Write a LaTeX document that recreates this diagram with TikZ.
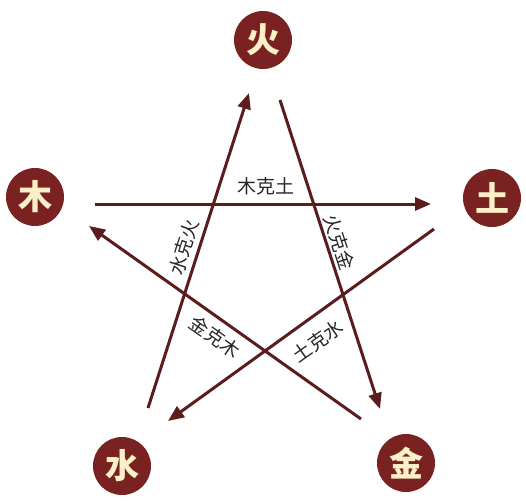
\documentclass[tikz,border=0pt]{standalone}
\usepackage{fontspec}
\usepackage{xcolor}
\usepackage{tikz}
\usetikzlibrary{arrows.meta}
\newfontfamily\cjk{Noto Sans CJK SC}
\definecolor{zaohong}{HTML}{7A2222}
\definecolor{kexian}{HTML}{5A1C1C}
\definecolor{mihuang}{HTML}{FBF0C8}
\tikzset{
	xing/.style={circle,fill=zaohong,minimum size=58pt,inner sep=0pt,
		text=mihuang,font=\cjk\bfseries\fontsize{34}{34}\selectfont},
	ke/.style={draw=kexian,line width=3pt,
		-{Triangle[length=16pt,width=13pt]}},
	kezi/.style={text=black!85,font=\cjk\fontsize{19}{19}\selectfont,inner sep=0pt}
}

\begin{document}
\begin{tikzpicture}[x=1pt,y=-1pt]
					\useasboundingbox (0,0) rectangle (526,500);
					% the five elements
					\node[xing] (huo) at (263,40) {火};
					\node[xing] (mu) at (35,197) {木};
					\node[xing] (tu) at (492,198) {土};
					\node[xing] (shui) at (122,466) {水};
					\node[xing] (jin) at (406,463) {金};
					% ends of the arrows
					\coordinate (shuiA) at (148,408);
					\coordinate (huoB) at (249,93);
					\coordinate (huoA) at (280,100);
					\coordinate (jinB) at (380,409);
					\coordinate (muA) at (95,204);
					\coordinate (tuB) at (431,204);
					\coordinate (tuA) at (434,229);
					\coordinate (shuiB) at (168,421);
					\coordinate (jinA) at (361,419);
					\coordinate (muB) at (89,226);
					\draw[ke] (shuiA)--(huoB);
					\draw[ke] (huoA)--(jinB);
					\draw[ke] (muA)--(tuB);
					\draw[ke] (tuA)--(shuiB);
					\draw[ke] (jinA)--(muB);
					% labels
					\node[kezi] (mutu) at (266,186) {木克土};
					\node[kezi,rotate=72] (shuihuo) at (184,247) {水克火};
					\node[kezi,rotate=-72] (huojin) at (339,242) {火克金};
					\node[kezi,rotate=-35] (jinmu) at (215,337) {金克木};
					\node[kezi,rotate=35] (tushui) at (318,341) {土克水};
				\end{tikzpicture}
\end{document}
